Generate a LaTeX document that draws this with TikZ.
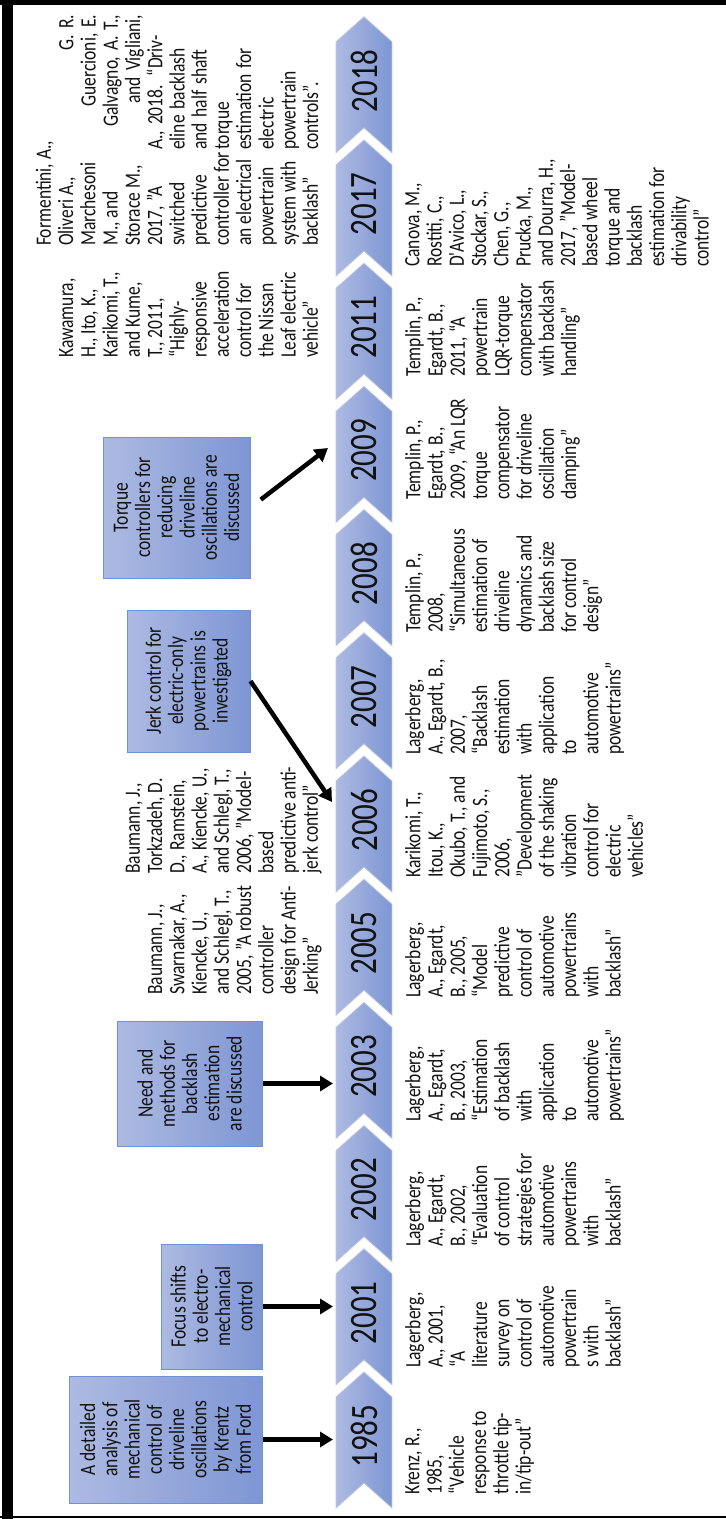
\documentclass[tikz,border=0pt]{standalone}
\usepackage{fontspec}
\setmainfont{Carlito}
\usetikzlibrary{arrows.meta}
\definecolor{boxlight}{RGB}{173,186,226}
\definecolor{boxdark}{RGB}{126,150,212}
\definecolor{boxline}{RGB}{110,145,215}
\definecolor{chevedge}{RGB}{190,198,222}
\definecolor{ink}{RGB}{18,18,18}
\begin{document}
\begin{tikzpicture}[x=1pt,y=-1pt,
  vtext/.style={rotate=90, yscale=1.25, inner sep=0pt, text=ink,
                font=\fontsize{17.5}{17.8}\selectfont},
  lowtext/.style={vtext, align=left, anchor=north west},
  uptext/.style={vtext, align=left, anchor=south west, text depth=0pt},
  parbox/.style={vtext, align=left, anchor=base west},
  boxtext/.style={vtext, align=center},
  yearlbl/.style={rotate=90, yscale=1.25, inner sep=0pt, text=ink,
                  font=\fontsize{31}{31}\selectfont},
  notebox/.style={draw=boxline, line width=1pt, left color=boxlight,
                  right color=boxdark, inner sep=0pt},
  chev/.style={draw=chevedge, line width=0.8pt, left color=boxlight,
               right color=boxdark},
  arr/.style={line width=4.5pt, -{Triangle[length=13pt,width=15pt]}},
]
\useasboundingbox (0,0) rectangle (726,1519);

% frame
\draw[line width=5pt] (0,2.5) -- (726,2.5);
\draw[line width=11pt] (7.5,0) -- (7.5,1519);
\draw[line width=2pt] (0,1517) -- (726,1517);

% timeline chevrons with year labels
\foreach \yr [count=\i from 0] in {1985,2001,2002,2003,2005,2006,2007,2008,2009,2011,2017,2018} {
  \pgfmathsetmacro{\t}{1372-123.2*\i}
  \path[chev] (364,\t) -- (392,\t+25) -- (392,\t+136) -- (364,\t+111)
              -- (336,\t+136) -- (336,\t+25) -- cycle;
  \node[yearlbl] (y\yr) at (364.5,\t+64) {\yr};
  \coordinate (e\yr) at (336,\t+68);
}

% note boxes
\node[notebox, minimum width=193pt, minimum height=127pt] (bKrenz) at (165.5,1439.5) {};
\node[boxtext] (tKrenz) at (bKrenz.center) {A detailed\\analysis of\\mechanical\\control of\\driveline\\oscillations\\by Krentz\\from Ford};

\node[notebox, minimum width=101pt, minimum height=125pt] (bFocus) at (211.5,1306.5) {};
\node[boxtext] (tFocus) at (bFocus.center) {Focus shifts\\to electro-\\mechanical\\control};

\node[notebox, minimum width=145pt, minimum height=125pt] (bNeed) at (189.5,1083.5) {};
\node[boxtext] (tNeed) at (bNeed.center) {Need and\\methods for\\backlash\\estimation\\are discussed};

\node[notebox, minimum width=123pt, minimum height=142pt] (bJerk) at (188.5,681) {};
\node[boxtext] (tJerk) at (bJerk.center) {Jerk control for\\electric-only\\powertrains is\\investigated};

\node[notebox, minimum width=147pt, minimum height=141pt] (bTorque) at (176.5,507.5) {};
\node[boxtext] (tTorque) at (bTorque.center) {Torque\\controllers for\\reducing\\driveline\\oscillations are\\discussed};

% arrow targets on the chevrons
\coordinate (j2006) at (332,802);
\coordinate (j2009) at (328,448);

% connectors
\draw[arr, shorten >=3pt] (bKrenz.east) -- (bKrenz.east -| e1985);
\draw[arr, shorten >=3pt] (bFocus.east) -- (bFocus.east -| e2001);
\draw[arr, shorten >=3pt] (bNeed.east) -- (bNeed.east -| e2003);
\draw[arr] (bJerk.east) -- (j2006);
\draw[arr, shorten <=13pt] (bTorque.east) -- (j2009);

% references below the timeline
\node[lowtext] (r1985) at (405,1495) {Krenz, R.,\\1985,\\“Vehicle\\response to\\throttle tip-\\in/tip-out”};
\node[lowtext] (r2001) at (405,1368) {Lagerberg,\\A., 2001,\\“A\\literature\\survey on\\control of\\automotive\\powertrain\\s with\\backlash”};
\node[lowtext] (r2002) at (405,1247) {Lagerberg,\\A., Egardt,\\B., 2002,\\“Evaluation\\of control\\strategies for\\automotive\\powertrains\\with\\backlash”};
\node[lowtext] (r2003) at (405,1122) {Lagerberg,\\A., Egardt,\\B., 2003,\\“Estimation\\of backlash\\with\\application\\to\\automotive\\powertrains”};
\node[lowtext] (r2005) at (405,998) {Lagerberg,\\A., Egardt,\\B., 2005,\\“Model\\predictive\\control of\\automotive\\powertrains\\with\\backlash”};
\node[lowtext] (r2006) at (405,878) {Karikomi, T.,\\Itou, K.,\\Okubo, T., and\\Fujimoto, S.,\\2006,\\"Development\\of the shaking\\vibration\\control for\\electric\\vehicles"};
\node[lowtext] (r2007) at (405,755) {Lagerberg,\\A., Egardt, B.,\\2007,\\“Backlash\\estimation\\with\\application\\to\\automotive\\powertrains”};
\node[lowtext] (r2008) at (405,633) {Templin, P.,\\2008,\\“Simultaneous\\estimation of\\driveline\\dynamics and\\backlash size\\for control\\design”};
\node[lowtext] (r2009) at (405,500) {Templin, P.,\\Egardt, B.,\\2009, “An LQR\\torque\\compensator\\for driveline\\oscillation\\damping”};
\node[lowtext] (r2011) at (405,377) {Templin, P.,\\Egardt, B.,\\2011, “A\\powertrain\\LQR-torque\\compensator\\with backlash\\handling”};
\node[lowtext] (r2017) at (405,267) {Canova, M.,\\Rostiti, C.,\\D\textquotesingle Avico, L.,\\Stockar, S.,\\Chen, G.,\\Prucka, M.,\\and Dourra, H.,\\2017, "Model-\\based wheel\\torque and\\backlash\\estimation for\\drivability\\control"};

% references above the timeline
\node[uptext] (u2005) at (318,995) {Baumann, J.,\\Swarnakar, A.,\\Kiencke, U.,\\and Schlegl, T.,\\2005, "A robust\\controller\\design for Anti-\\Jerking"};
\node[uptext] (u2006) at (318,874) {Baumann, J.,\\Torkzadeh, D.\\D., Ramstein,\\A., Kiencke, U.,\\and Schlegl, T.,\\2006, "Model-\\based\\predictive anti-\\jerk control"};
\node[uptext] (u2011) at (318,358) {Kawamura,\\H., Ito, K.,\\Karikomi, T.,\\and Kume,\\T., 2011,\\“Highly-\\responsive\\acceleration\\control for\\the Nissan\\Leaf electric\\vehicle”};
\node[uptext] (u2017) at (318,246) {Formentini, A.,\\Oliveri A.,\\Marchesoni\\M., and\\Storace M.,\\2017, "A\\switched\\predictive\\controller for\\an electrical\\powertrain\\system with\\backlash”};
\node[parbox, text width=135pt] (u2018) at (73.25,150) {\hspace*{\fill}G. R.\\\hspace*{\fill}Guercioni, E.\\\hspace*{\fill}Galvagno, A. T.,\\\hspace*{\fill}and Vigliani,\\A., 2018. “Driv-\\eline backlash\\and half shaft\\torque\\estimation for\\electric\\powertrain\\controls”.};
\end{tikzpicture}
\end{document}
